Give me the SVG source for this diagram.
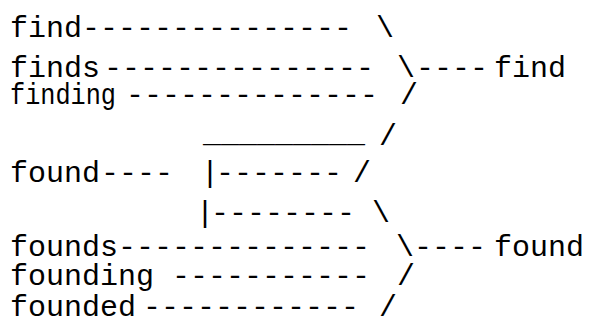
<svg xmlns="http://www.w3.org/2000/svg" width="593" height="322" viewBox="0 0 593 322">
  <style>
    text { font-family: "Liberation Mono", "DejaVu Sans Mono", monospace; font-size: 30px; fill: #000; white-space: pre; }
  </style>
  <rect width="593" height="322" fill="#fff"/>

  <!-- word forms (left) and stems (right) -->
  <g id="node-find"><text x="10" y="37">find</text></g>
  <g id="node-finds"><text x="10" y="77">finds</text></g>
  <g id="node-finding"><text x="10" y="104" textLength="106" lengthAdjust="spacingAndGlyphs">finding</text></g>
  <g id="node-found"><text x="10" y="182">found</text></g>
  <g id="node-founds"><text x="10" y="256">founds</text></g>
  <g id="node-founding"><text x="10" y="285">founding</text></g>
  <g id="node-founded"><text x="10" y="316">founded</text></g>
  <g id="node-stem-find"><text x="494" y="77">find</text></g>
  <g id="node-stem-found"><text x="494" y="256">found</text></g>

  <!-- ASCII connectors -->
  <g id="connectors">
    <text x="82" y="37">---------------</text>
    <text x="376" y="37">\</text>

    <text x="104" y="77">---------------</text>
    <text x="397" y="77">\</text>
    <text x="416" y="77">----</text>

    <text x="126" y="104">--------------</text>
    <text x="400" y="104">/</text>

    <text x="203" y="142" textLength="162" lengthAdjust="spacingAndGlyphs">_________</text>
    <text x="379" y="145">/</text>

    <text x="101" y="182">----</text>
    <text x="201" y="182">|</text>
    <text x="216" y="182">-------</text>
    <text x="353" y="182">/</text>

    <text x="196" y="222">|</text>
    <text x="211" y="222">--------</text>
    <text x="372" y="222">\</text>

    <text x="118" y="256">--------------</text>
    <text x="396" y="256">\</text>
    <text x="414" y="256">----</text>

    <text x="172" y="285">-----------</text>
    <text x="397" y="285">/</text>

    <text x="143" y="316">------------</text>
    <text x="379" y="316">/</text>
  </g>
</svg>
